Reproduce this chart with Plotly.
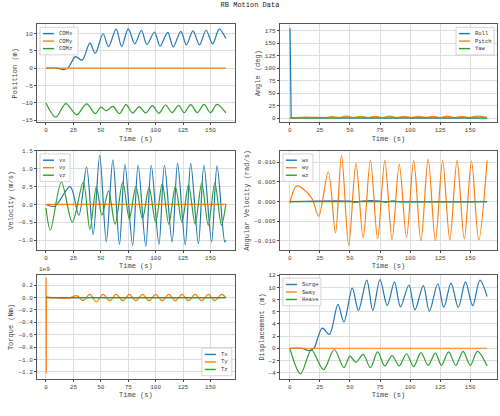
import plotly.graph_objects as go
from plotly.subplots import make_subplots

C = ["#1f77b4", "#ff7f0e", "#2ca02c"]

# Position (m)
comx_t = [0,10,16,20,27,33,40,45,52,57,64,69,75,81,87,92,99,104,111,116,123,128,134,140,146,152,158,164]
comx_v = [0,0,-0.4,0,3.3,2.3,7.2,4.3,9.9,6.2,11.2,6.2,11.3,7,10.9,6.8,10.4,6.3,10.3,6.1,10.6,6.7,10.7,6.7,10.9,7,11.2,8.5]
comy_t = [0,164]
comy_v = [0,0]
comz_t = [0,9,18,28,37,45,50,55,61,67,73,79,85,91,97,103,109,115,121,126,132,138,144,150,156,164]
comz_v = [-10,-14.1,-10.2,-13.4,-10.3,-13.1,-11.2,-12.3,-11.0,-13.1,-10.5,-12.9,-11.1,-12.9,-10.8,-13.0,-10.6,-12.8,-10.7,-12.8,-10.5,-12.8,-10.4,-12.8,-10.4,-12.9]

# Angle (deg)
roll_t = [0,0.2,1.2,164]
roll_v = [180,180,0,0]
pitch_t = [0,10,20,30,35,41,47,53,59,65,71,77,83,89,95,101,107,113,119,125,131,137,143,149,155,164]
pitch_v = [0,1.5,1.5,1,3,1,4,1,3.5,1,3.5,1,3.8,1,3.5,1,3.5,1,3.5,1,3.8,1,3.5,1,3.8,1.5]
yaw_t = [0,164]
yaw_v = [0,0]

# Velocity (m/s)
vx_t = [0,8,22,30,37,43,49,55,61,67,72,79,84,91,96,103,108,115,120,127,132,139,144,151,156,163,164]
vx_v = [0,-0.05,0.5,-0.3,1.05,-0.85,1.38,-1.05,1.25,-1.12,1.12,-1.15,1.1,-1.17,1.1,-1.12,1.1,-1.05,1.15,-1.13,1.15,-1.1,1.1,-1.05,1.08,-1.05,-1.0]
vy_t = [0,164]
vy_v = [0,0]
vz_t = [0,4,14,24,34,40,46,51,57,63,70,76,82,88,94,100,106,112,118,124,130,136,142,148,154,160,164]
vz_v = [-0.1,-0.72,0.63,-0.5,0.63,-0.7,0.5,-0.3,0.38,-0.55,0.63,-0.4,0.5,-0.4,0.48,-0.5,0.58,-0.55,0.5,-0.5,0.55,-0.55,0.6,-0.58,0.6,-0.58,0]

# Angular velocity (rad/s)
wx_t = [0,50,55,60,75,80,85,90,164]
wx_v = [0,0.0001,-0.0002,0.0001,0.0001,-0.0002,0.0002,0,0]
wy_t = [0,6,18,24,32,38,43,49,55,61,67,73,79,85,91,97,103,109,115,121,127,133,139,145,151,157,164]
wy_v = [-0.0005,0.004,0.001,-0.0037,0.0076,-0.008,0.0118,-0.0112,0.0098,-0.0092,0.0106,-0.0095,0.0105,-0.0097,0.0095,-0.0092,0.0105,-0.01,0.0108,-0.01,0.0105,-0.0098,0.0105,-0.0095,0.0103,-0.0098,0.0105]
wz_t = [0,164]
wz_v = [0,0]

# Torque (1e9 Nm)
tx_t = [0,164]
tx_v = [0,0]
ty_spike_t = [0,0.1,0.2,0.4,1]
ty_spike_v = [0,0.32,-1.23,0.02,0.01]
ty_t = [1,5,20,28,34,40,46,52,58,64,70,76,82,88,94,100,106,112,118,124,130,136,142,148,154,160,164]
ty_v = [0.01,0,-0.01,0.03,-0.05,0.05,-0.07,0.05,-0.05,0.05,-0.05,0.05,-0.05,0.05,-0.05,0.05,-0.05,0.05,-0.05,0.05,-0.05,0.05,-0.05,0.05,-0.05,0.05,0]
tz_t = [0,164]
tz_v = [0,0]

# Displacement (m)
surge_t = comx_t
surge_v = comx_v
sway_t = [0,164]
sway_v = [0,0]
heave_t = [0,9,18,28,37,45,50,55,61,67,73,79,85,91,97,103,109,115,121,126,132,138,144,150,156,164]
heave_v = [0,-4.2,-0.3,-3.5,-0.2,-3.2,-1.3,-2.3,-1.0,-3.2,-0.6,-2.9,-1.2,-2.9,-0.9,-3.0,-0.7,-2.8,-0.8,-2.8,-0.6,-2.8,-0.5,-2.8,-0.5,-2.9]

panels = [
    (1, 1, [("COMx", comx_t, comx_v, 0), ("COMy", comy_t, comy_v, 1), ("COMz", comz_t, comz_v, 2)], "Position (m)", [-15.5, 12.6], [-15,-10,-5,0,5,10], None, "tl"),
    (1, 2, [("Roll", roll_t, roll_v, 0), ("Pitch", pitch_t, pitch_v, 1), ("Yaw", yaw_t, yaw_v, 2)], "Angle (deg)", [-8, 188], [0,25,50,75,100,125,150,175], None, "tr"),
    (2, 1, [("vx", vx_t, vx_v, 0), ("vy", vy_t, vy_v, 1), ("vz", vz_t, vz_v, 2)], "Velocity (m/s)", [-1.27, 1.5], [-1.0,-0.5,0,0.5,1.0,1.5], ".1f", "tl"),
    (2, 2, [("wx", wx_t, wx_v, 0), ("wy", wy_t, wy_v, 1), ("wz", wz_t, wz_v, 2)], "Angular Velocity (rad/s)", [-0.0123, 0.0129], [-0.01,-0.005,0,0.005,0.01], ".3f", "tl"),
    (3, 1, [("Tx", tx_t, tx_v, 0), ("Ty", ty_t, ty_v, 1), (None, ty_spike_t, ty_spike_v, 1), ("Tz", tz_t, tz_v, 2)], "Torque (Nm)", [-1.31, 0.36], [-1.2,-1.0,-0.8,-0.6,-0.4,-0.2,0,0.2], ".1f", "br"),
    (3, 2, [("Surge", surge_t, surge_v, 0), ("Sway", sway_t, sway_v, 1), ("Heave", heave_t, heave_v, 2)], "Displacement (m)", [-5.0, 12.0], [-4,-2,0,2,4,6,8,10,12], None, "tl"),
]

FONT = "Liberation Mono"
W, H = 500, 416
ML, MR, MT, MB = 37, 3, 12, 18
PW, PH = W - ML - MR, H - MT - MB
xd = {1: (0.0, 0.43), 2: (0.528, 1.0)}
yd = {1: (0.715, 0.968), 2: (0.384, 0.64), 3: (0.05, 0.318)}

fig = make_subplots(rows=3, cols=2, horizontal_spacing=0.09, vertical_spacing=0.1)
for i, (r, c, series, ytitle, yr, yt, fmt, lp) in enumerate(panels):
    for name, t, v, k in series:
        spike = name in ("Roll",) or name is None
        fig.add_trace(go.Scatter(x=t, y=v, mode="lines", showlegend=False, hoverinfo="skip",
                                 line=dict(color=C[k], width=1.2, shape="linear" if spike else "spline",
                                           smoothing=0 if spike else 0.9)), row=r, col=c)
    fig.update_xaxes(row=r, col=c, domain=list(xd[c]), range=[-8.2, 172.2], tickvals=[0,25,50,75,100,125,150],
                     title=dict(text="Time (s)", font=dict(size=7, family=FONT), standoff=2))
    fig.update_yaxes(row=r, col=c, domain=list(yd[r]), range=yr, tickvals=yt, tickformat=fmt,
                     title=dict(text=ytitle, font=dict(size=7, family=FONT), standoff=3))
    n = "" if i == 0 else str(i + 1)
    xr, yr_ = f"x{n} domain", f"y{n} domain"
    aw = (xd[c][1] - xd[c][0]) * PW
    ah = (yd[r][1] - yd[r][0]) * PH
    names = [s for s in series if s[0] is not None]
    bw = 30 if max(len(s[0]) for s in names) <= 2 else 38
    rowh, pad = 7.5, 2.5
    bh = rowh * len(names) + 2 * pad
    if lp == "tl":
        bx0, by1 = 3, ah - 3
    elif lp == "tr":
        bx0, by1 = aw - 3 - bw, ah - 3
    else:
        bx0, by1 = aw - 3 - bw, 3 + bh
    fx = lambda p: p / aw
    fy = lambda p: p / ah
    fig.add_shape(type="rect", xref=xr, yref=yr_, x0=fx(bx0), x1=fx(bx0 + bw), y0=fy(by1 - bh), y1=fy(by1),
                  line=dict(color="#cccccc", width=0.8), fillcolor="rgba(255,255,255,0.85)", layer="above")
    for j, (name, t, v, k) in enumerate(names):
        yc = by1 - pad - rowh * (j + 0.5)
        fig.add_shape(type="line", xref=xr, yref=yr_, x0=fx(bx0 + 3), x1=fx(bx0 + 14), y0=fy(yc), y1=fy(yc),
                      line=dict(color=C[k], width=1.4), layer="above")
        fig.add_annotation(text=name, xref=xr, yref=yr_, x=fx(bx0 + 17), y=fy(yc), xanchor="left", yanchor="middle",
                           showarrow=False, font=dict(size=5.5, family=FONT, color="#333"))

fig.update_xaxes(showgrid=True, gridcolor="#dddddd", zeroline=False, showline=True, linecolor="#555555",
                 mirror=True, ticks="outside", ticklen=2, tickfont=dict(size=6, family=FONT), automargin=False)
fig.update_yaxes(showgrid=True, gridcolor="#dddddd", zeroline=False, showline=True, linecolor="#555555",
                 mirror=True, ticks="outside", ticklen=2, tickfont=dict(size=6, family=FONT), automargin=False)

fig.add_annotation(text="1e9", xref="x5 domain", yref="y5 domain", x=0, y=1.0, xanchor="left", yanchor="bottom",
                   showarrow=False, font=dict(size=6, family=FONT, color="#444"))
fig.update_layout(width=W, height=H, margin=dict(l=ML, r=MR, t=MT, b=MB, autoexpand=False),
                  plot_bgcolor="white", paper_bgcolor="white", showlegend=False,
                  title=dict(text="RB Motion Data", x=0.5, y=0.995, yanchor="top", font=dict(size=7, family=FONT, color="#222")),
                  font=dict(family=FONT, color="#444"))
fig.write_html("out.html", config={"displayModeBar": False},
               post_script="document.body.style.margin='0';document.body.style.overflow='hidden';")
